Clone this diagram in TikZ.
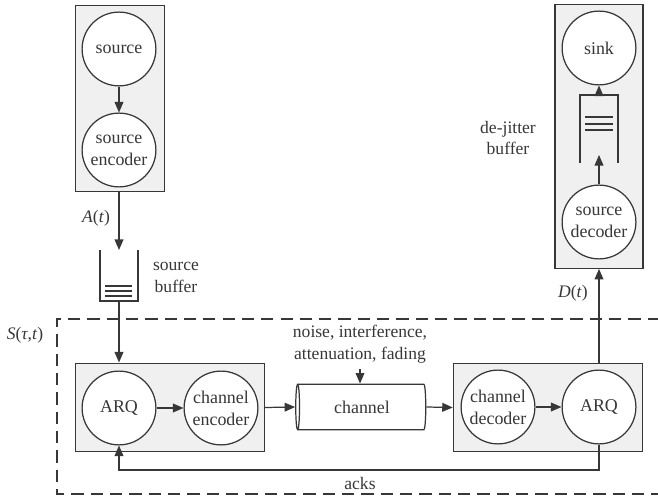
\documentclass[tikz,border=0pt]{standalone}
\usepackage{fontspec}
\setmainfont{Liberation Serif}
\newfontfamily\diagfont{Liberation Serif}
\usetikzlibrary{arrows.meta,shapes.geometric}
\definecolor{linegray}{RGB}{55,55,55}
\definecolor{boxgray}{RGB}{240,240,240}
\tikzset{
  blk/.style={circle,draw=linegray,fill=white,line width=0.7pt,minimum size=42pt,inner sep=0pt,align=center,text=linegray,font=\diagfont\fontsize{10.2}{12.5}\selectfont},
  grp/.style={rectangle,draw=linegray,fill=boxgray,line width=0.7pt,inner sep=0pt},
  arr/.style={-{Triangle[length=6pt,width=5pt]},draw=linegray,line width=0.7pt},
  lbl/.style={align=center,text=linegray,font=\diagfont\fontsize{10}{12.5}\selectfont},
  buf/.style={draw=linegray,line width=0.7pt},
}

\begin{document}
\begin{tikzpicture}[x=0.02cm, y=-0.02cm]

    \useasboundingbox (0,0) rectangle (658,499);

    % group boxes
    \draw (120,98.5) node[grp,minimum width=51pt,minimum height=106pt](srcbox){};
    \draw (599,136.5) node[grp,minimum width=50pt,minimum height=150pt](sinkbox){};
    \draw (170,407.5) node[grp,minimum width=107.7pt,minimum height=50.5pt](lbox){};
    \draw (548,407.5) node[grp,minimum width=107.7pt,minimum height=50.5pt](rbox){};

    % sender side
    \draw (119,49) node[blk](src){source};
    \draw (119,150) node[blk](enc){source\\encoder};
    \draw [arr] (src) -- (enc);
    \draw (96,218) node[lbl](at){\textit{A}(\textit{t})};

    \coordinate (sbuftop) at (119,250);
    \coordinate (sbufbot) at (119,301);
    \draw [buf] (100,250) -- (100,301) -- (138,301) -- (138,250);
    \draw [buf] (105,286) -- (132,286);
    \draw [buf] (105,291) -- (132,291);
    \draw [buf] (105,296) -- (132,296);
    \draw (176,277) node[lbl](sbuflbl){source\\buffer};
    \draw [arr] (srcbox.south -| sbuftop) -- (sbuftop);

    % system
    \draw [linegray,line width=0.7pt,dash pattern=on 7pt off 4pt] (660,319) -- (57,319) -- (57,494) -- (660,494);
    \draw (25,335) node[lbl](stau){\textit{S}(\textit{τ},\textit{t})};

    \draw (119,408) node[blk](arql){ARQ};
    \draw (221,408) node[blk](chenc){channel\\encoder};
    \draw [arr] (sbufbot) -- (arql |- lbox.north);
    \draw [arr] (arql) -- (chenc);

    \draw (362,407) node[cylinder,shape border rotate=180,aspect=0.3,draw=linegray,fill=white,line width=0.7pt,
        minimum width=26pt,minimum height=74pt,inner sep=0pt,text=linegray,font=\diagfont\fontsize{10.2}{12.5}\selectfont](chan){channel};
    \draw (360,344) node[lbl](noise){noise, interference,\\attenuation, fading};
    \draw [arr] (noise.south) -- (noise.south |- chan.north);
    \draw [arr] (lbox.east) -- (chan.west);

    \draw (498,407) node[blk](chdec){channel\\decoder};
    \draw (599,407) node[blk](arqr){ARQ};
    \draw [arr] (chan.east) -- (rbox.west);
    \draw [arr] (chdec) -- (arqr);

    \coordinate (ackr) at (599,470);
    \coordinate (ackl) at (119,470);
    \draw [arr] (arqr.south) -- (ackr) -- (ackl) -- (arql.south);
    \draw (360,483) node[lbl](acks){acks};

    % receiver side
    \draw [arr] (arqr |- rbox.north) -- (sinkbox.south);
    \draw (573,293) node[lbl](dt){\textit{D}(\textit{t})};

    \draw (599,48) node[blk](sink){sink};
    \draw (599,222) node[blk](dec){source\\decoder};
    \coordinate (jbuftop) at (599,95);
    \coordinate (jbufin) at (599,155);
    \draw [buf] (580,163) -- (580,95) -- (618,95) -- (618,163);
    \draw [buf] (585,117) -- (613,117);
    \draw [buf] (585,124) -- (613,124);
    \draw [buf] (585,130) -- (613,130);
    \draw [arr] (jbuftop) -- (sink);
    \draw [arr] (dec) -- (jbufin);
    \draw (508,138) node[lbl](jbuflbl){de-jitter\\buffer};

\end{tikzpicture}
\end{document}
